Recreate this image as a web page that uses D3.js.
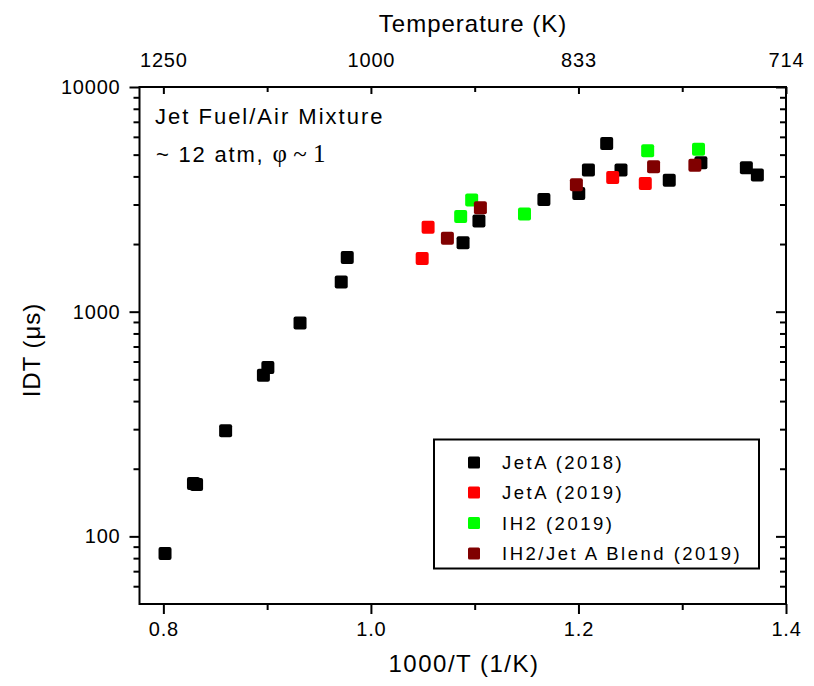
<!DOCTYPE html>
<html>
<head>
<meta charset="utf-8">
<script src="https://cdn.jsdelivr.net/npm/d3@7"></script>
<style>
  body { margin: 0; background: #fff; }
  svg { display: block; }
  text { font-family: "Liberation Sans", Arial, sans-serif; fill: #000; }
</style>
</head>
<body>
<svg id="chart" width="814" height="686"></svg>
<script>
// ---- data (x = 1000/T in 1/K, y = IDT in microseconds) ----
const jetA2018 = [
  [0.8016, 84], [0.8290, 172], [0.8320, 170], [0.8600, 295], [0.8964, 521],
  [0.9007, 564], [0.9317, 890], [0.9714, 1357], [0.9772, 1743], [1.0888, 2025],
  [1.1041, 2530], [1.1667, 3160], [1.2003, 3360], [1.2096, 4270], [1.2272, 5610],
  [1.2410, 4270], [1.2875, 3850], [1.3180, 4600], [1.3618, 4370], [1.3724, 4055]
];
const jetA2019 = [[1.0494, 1726], [1.0551, 2378], [1.2330, 3960], [1.2644, 3724]];
const ih2_2019 = [[1.0865, 2655], [1.0971, 3139], [1.1480, 2718], [1.2667, 5204], [1.3157, 5278]];
const blend2019 = [[1.0737, 2123], [1.1055, 2900], [1.1980, 3672], [1.2724, 4416], [1.3122, 4480]];

const seriesNames = ["JetA (2018)", "JetA (2019)", "IH2 (2019)", "IH2/Jet A Blend (2019)"];
const seriesColors = ["#000000", "#ff0000", "#00ff00", "#800000"];
const seriesData = [jetA2018, jetA2019, ih2_2019, blend2019];

const xMajorTicks = [0.8, 1.0, 1.2, 1.4];
const xMinorTicks = [0.9, 1.1, 1.3];
const topTickLabels = ["1250", "1000", "833", "714"];
const yMajorTicks = [100, 1000, 10000];
const yTickLabels = ["100", "1000", "10000"];
const yMinorTicks = [60, 70, 80, 90, 200, 300, 400, 500, 600, 700, 800, 900,
                     2000, 3000, 4000, 5000, 6000, 7000, 8000, 9000];

// ---- layout ----
const L = 139.5, R = 786, T = 87, B = 604;
const svg = d3.select("#chart");
const x = d3.scaleLinear().domain([0.777, 1.4]).range([L, R]);
const y = d3.scaleLog().domain([50, 10000]).range([B, T]);

const axisW = 2;
const major = 10, minor = 6;

// Bottom axis (ticks outward)
const gBottom = svg.append("g").attr("transform", `translate(0,${B})`)
  .call(d3.axisBottom(x).tickValues(xMajorTicks).tickSize(major).tickPadding(8)
    .tickFormat(d3.format(".1f")));
gBottom.append("g").call(d3.axisBottom(x).tickValues(xMinorTicks).tickSize(minor).tickFormat(""));

// Top axis (ticks inward), temperature labels
const gTop = svg.append("g").attr("transform", `translate(0,${T})`)
  .call(d3.axisTop(x).tickValues(xMajorTicks).tickSize(-7).tickPadding(20)
    .tickFormat((d, i) => topTickLabels[i]));
gTop.append("g").call(d3.axisTop(x).tickValues(xMinorTicks).tickSize(-5).tickFormat(""));

// Left axis (ticks outward)
const gLeft = svg.append("g").attr("transform", `translate(${L},0)`)
  .call(d3.axisLeft(y).tickValues(yMajorTicks).tickSize(major).tickPadding(9)
    .tickFormat((d, i) => yTickLabels[i]));
gLeft.append("g").call(d3.axisLeft(y).tickValues(yMinorTicks).tickSize(minor).tickFormat(""));

// Right axis (ticks inward)
const gRight = svg.append("g").attr("transform", `translate(${R},0)`)
  .call(d3.axisRight(y).tickValues(yMajorTicks).tickSize(-major).tickFormat(""));
gRight.append("g").call(d3.axisRight(y).tickValues(yMinorTicks).tickSize(-minor).tickFormat(""));

[gBottom, gTop, gLeft, gRight].forEach(g => {
  g.selectAll(".domain").remove();
  g.selectAll("line").attr("stroke", "#000").attr("stroke-width", axisW);
  g.selectAll("text").attr("font-size", 20).attr("letter-spacing", 0.8)
    .attr("font-family", "Liberation Sans, Arial, sans-serif").attr("fill", "#000");
});

// frame
svg.append("rect").attr("x", L).attr("y", T).attr("width", R - L).attr("height", B - T)
  .attr("fill", "none").attr("stroke", "#000").attr("stroke-width", axisW);

// ---- markers ----
const ms = 13;
seriesData.forEach((data, si) => {
  svg.append("g").selectAll("rect").data(data).join("rect")
    .attr("x", d => x(d[0]) - ms / 2)
    .attr("y", d => y(d[1]) - ms / 2)
    .attr("width", ms).attr("height", ms).attr("rx", 2)
    .attr("fill", seriesColors[si]);
});

// ---- axis titles ----
svg.append("text").attr("x", 473).attr("y", 32).attr("text-anchor", "middle")
  .attr("font-size", 24).attr("letter-spacing", 1).text("Temperature (K)");
svg.append("text").attr("x", 464).attr("y", 672).attr("text-anchor", "middle")
  .attr("font-size", 24).attr("letter-spacing", 1.5).text("1000/T (1/K)");
svg.append("text").attr("transform", "translate(40,350) rotate(-90)").attr("text-anchor", "middle")
  .attr("font-size", 24).attr("letter-spacing", 1).text("IDT (μs)");

// ---- annotation ----
svg.append("text").attr("x", 155).attr("y", 124).attr("font-size", 22)
  .attr("letter-spacing", 2).text("Jet Fuel/Air Mixture");
const ann2 = svg.append("text").attr("x", 156).attr("y", 162).attr("font-size", 22);
ann2.append("tspan").attr("letter-spacing", 1.8).text("~ 12 atm, ");
ann2.append("tspan").attr("font-family", "Liberation Serif, Times New Roman, serif")
  .attr("font-size", 25).text("φ ~ 1");

// ---- legend ----
const lg = svg.append("g");
lg.append("rect").attr("x", 434).attr("y", 439.5).attr("width", 325).attr("height", 129)
  .attr("fill", "#fff").attr("stroke", "#000").attr("stroke-width", 2);
const rowY = [462.5, 492.5, 523, 553.5];
seriesNames.forEach((name, i) => {
  lg.append("rect").attr("x", 474 - 6).attr("y", rowY[i] - 6).attr("width", 12).attr("height", 12)
    .attr("rx", 1.5).attr("fill", seriesColors[i]);
  lg.append("text").attr("x", 502).attr("y", rowY[i] + 6.5).attr("font-size", 18.5)
    .attr("letter-spacing", 2.5).text(name);
});
</script>
</body>
</html>
